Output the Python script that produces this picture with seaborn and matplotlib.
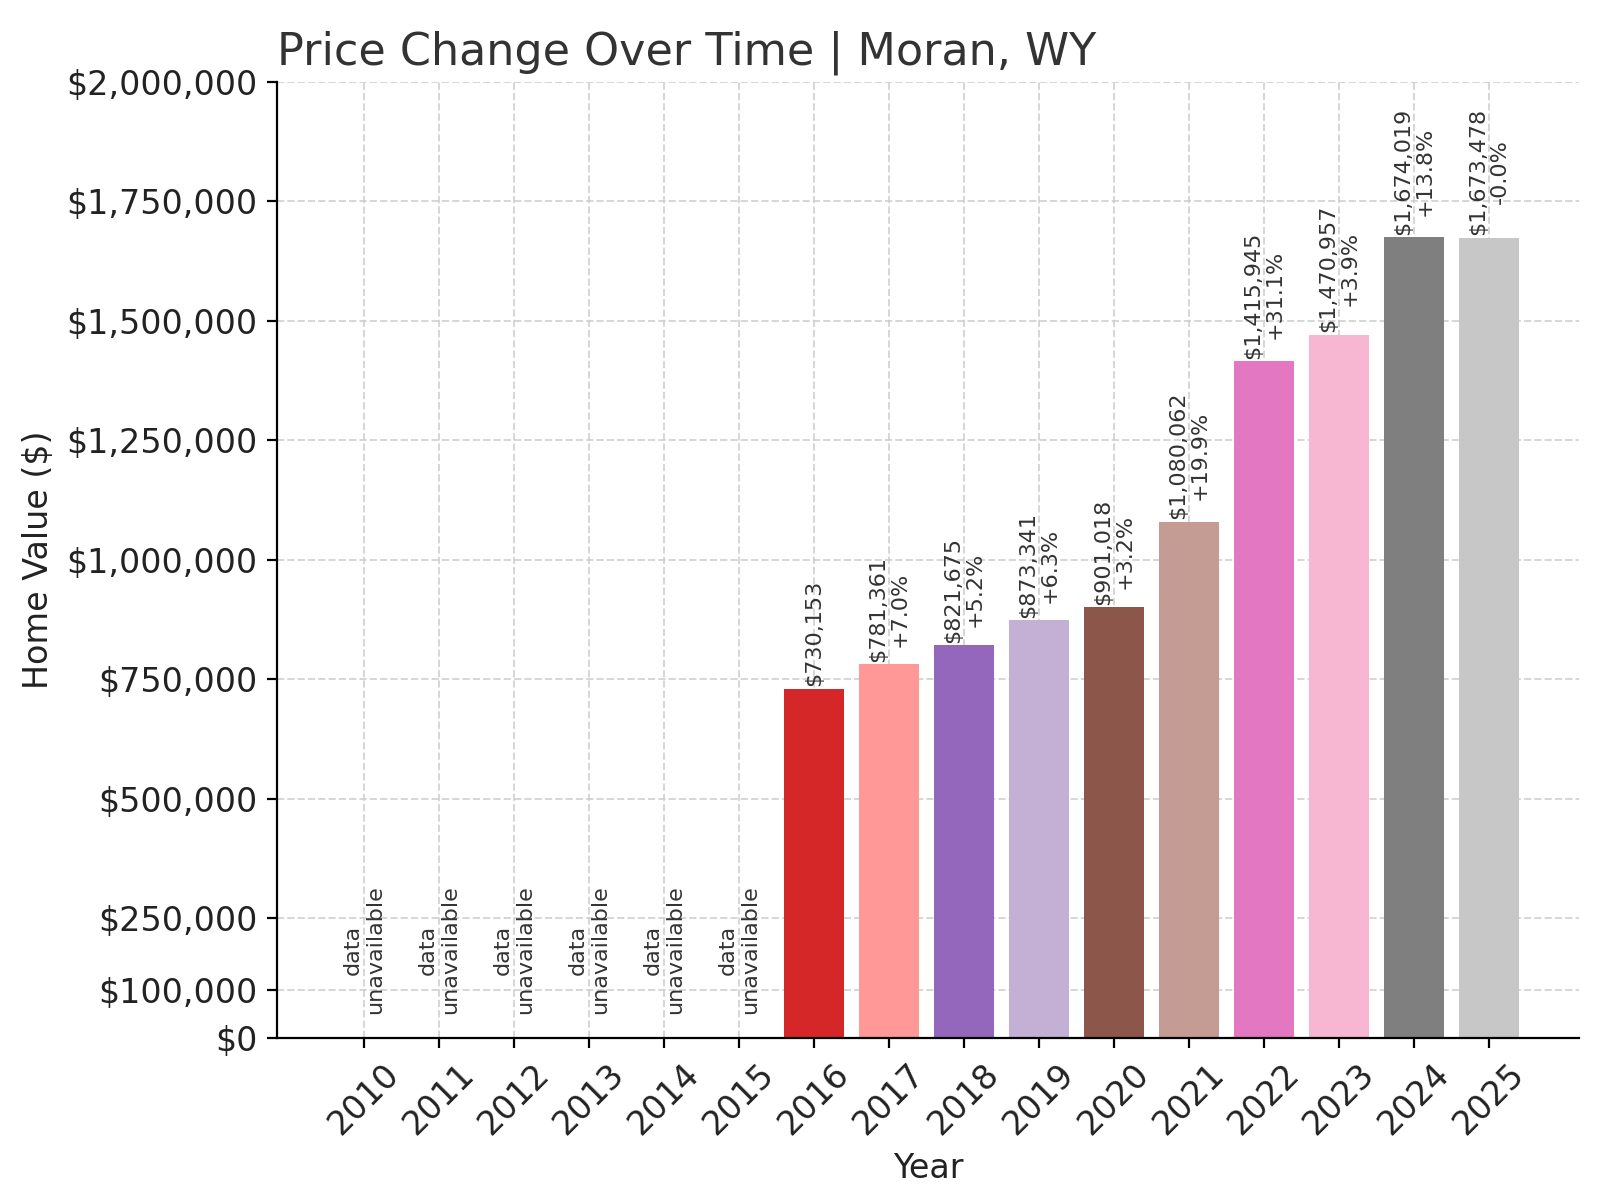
import matplotlib
matplotlib.use("Agg")
import matplotlib.pyplot as plt
import seaborn as sns
import pandas as pd

years = [str(y) for y in range(2010, 2026)]
values = [0, 0, 0, 0, 0, 0, 730153, 781361, 821675, 873341, 901018,
          1080062, 1415945, 1470957, 1674019, 1673478]
pct_labels = ["", "", "", "", "", "", "", "+7.0%", "+5.2%", "+6.3%", "+3.2%",
              "+19.9%", "+31.1%", "+3.9%", "+13.8%", "-0.0%"]
available = [False] * 6 + [True] * 10
bar_colors = ["#1f77b4"] * 6 + ["#d62728", "#ff9896", "#9467bd", "#c5b0d5", "#8c564b",
                                "#c49c94", "#e377c2", "#f7b6d2", "#7f7f7f", "#c7c7c7"]
yticks = [0, 100000, 250000, 500000, 750000, 1000000, 1250000, 1500000, 1750000, 2000000]

df = pd.DataFrame({"Year": years, "Value": values})
fig, ax = plt.subplots(figsize=(8, 6), dpi=200)
sns.barplot(data=df, x="Year", y="Value", hue="Year", palette=dict(zip(years, bar_colors)),
            legend=False, ax=ax, width=0.8, saturation=1, zorder=2)
ax.set_axisbelow(True)
ax.grid(True, linestyle="--", color="#cccccc", linewidth=0.7, alpha=0.8)

for i, (v, p, a) in enumerate(zip(values, pct_labels, available)):
    if a:
        txt = f"${v:,.0f}" + (f"\n{p}" if p else "")
        ax.text(i, v + 5000, txt, rotation=90, ha="center", va="bottom",
                fontsize=8, color="#333333", linespacing=1.1)
    else:
        ax.text(i, 50000, "data\nunavailable", rotation=90, ha="center", va="bottom",
                fontsize=8, color="#333333", linespacing=1.1)

ax.set_xlim(-1.16, 16.2)
ax.set_ylim(0, 2000000)
ax.set_yticks(yticks)
ax.set_yticklabels([f"${t:,.0f}" for t in yticks], fontsize=12, color="#222222")
ax.tick_params(axis="x", labelrotation=45, labelsize=12, labelcolor="#222222")
ax.set_xlabel("Year", fontsize=12, color="#222222")
ax.set_ylabel("Home Value ($)", fontsize=12, color="#222222")
ax.set_title("Price Change Over Time | Moran, WY", loc="left", fontsize=16, color="#333333")
for s in ["top", "right"]:
    ax.spines[s].set_visible(False)
fig.subplots_adjust(left=0.173, right=0.987, top=0.932, bottom=0.135)
fig.savefig("out.png", dpi=200)
